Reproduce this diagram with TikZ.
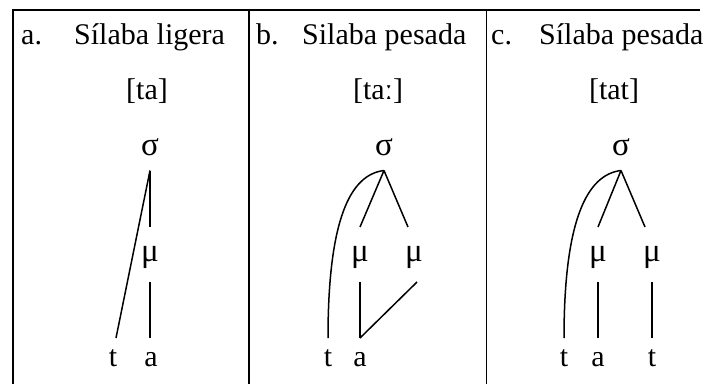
\documentclass[tikz,border=0pt]{standalone}
\usepackage{fontspec}
\setmainfont{Liberation Serif}
\begin{document}
\begin{tikzpicture}[x=1pt,y=-1pt,
  every node/.style={font=\fontsize{30}{35}\selectfont, inner sep=0pt},
  head/.style={anchor=base west},
  sig/.style={anchor=base, font=\fontsize{33}{38}\selectfont, text height=0pt, text depth=0pt, outer ysep=15pt},
  mora/.style={anchor=base, font=\fontsize{33}{38}\selectfont, text height=14pt, text depth=1pt, outer ysep=20pt},
  seg/.style={anchor=base, text height=14pt, text depth=0pt, outer ysep=14pt},
  thick rule/.style={line width=2.5pt},
  thin rule/.style={line width=1pt},
  assoc/.style={line width=1.5pt}]
\useasboundingbox (0,0) rectangle (709,384);
% Frame
\draw[thick rule] (13,384) -- (13,10) -- (700,10);
\draw[thick rule] (249,10) -- (249,384);
\draw[thin rule] (486,10) -- (486,384);
% Headings
\node[head] (la) at (21,44) {a.};
\node[head] (ha) at (74,44) {Sílaba ligera};
\node[head] (lb) at (256,44) {b.};
\node[head] (hb) at (302,44) {Silaba pesada};
\node[head] (lc) at (491,44) {c.};
\node[head] (hc) at (539,44) {Sílaba pesada};
\node[anchor=base] (fa) at (147,99) {[ta]};
\node[anchor=base] (fb) at (378,99) {[taː]};
\node[anchor=base] (fc) at (614,99) {[tat]};
% a. Silaba ligera
\node[sig] (sa) at (150,155) {σ};
\node[mora] (ma) at (150,261) {μ};
\node[seg] (ta) at (113,366) {t};
\node[seg] (aa) at (151,366) {a};
\draw[assoc] (sa.south) -- ([xshift=3pt]ta.north);
\draw[assoc] (sa.south) -- (ma.north);
\draw[assoc] (ma.south) -- ([xshift=-1pt]aa.north);
% b. Silaba pesada
\node[sig] (sb) at (384,155) {σ};
\node[mora] (mb1) at (360,261) {μ};
\node[mora] (mb2) at (414,261) {μ};
\node[seg] (tb) at (328,366) {t};
\node[seg] (ab) at (360,366) {a};
\draw[assoc] (sb.south) -- (mb1.north);
\draw[assoc] (sb.south) -- ([xshift=-6pt]mb2.north);
\draw[assoc] (mb1.south) -- (ab.north);
\draw[assoc] ([xshift=3pt]mb2.south) -- (ab.north);
\draw[assoc] (sb.south) .. controls +(-34,4) and +(0,-118) .. (tb.north);
% c. Silaba pesada
\node[sig] (sc) at (621,155) {σ};
\node[mora] (mc1) at (598,261) {μ};
\node[mora] (mc2) at (652,261) {μ};
\node[seg] (tc1) at (564,366) {t};
\node[seg] (ac) at (598,366) {a};
\node[seg] (tc2) at (652,366) {t};
\draw[assoc] (sc.south) -- (mc1.north);
\draw[assoc] (sc.south) -- ([xshift=-7pt]mc2.north);
\draw[assoc] (mc1.south) -- (ac.north);
\draw[assoc] (mc2.south) -- (tc2.north);
\draw[assoc] (sc.south) .. controls +(-34,4) and +(0,-118) .. (tc1.north);
\end{tikzpicture}
\end{document}
